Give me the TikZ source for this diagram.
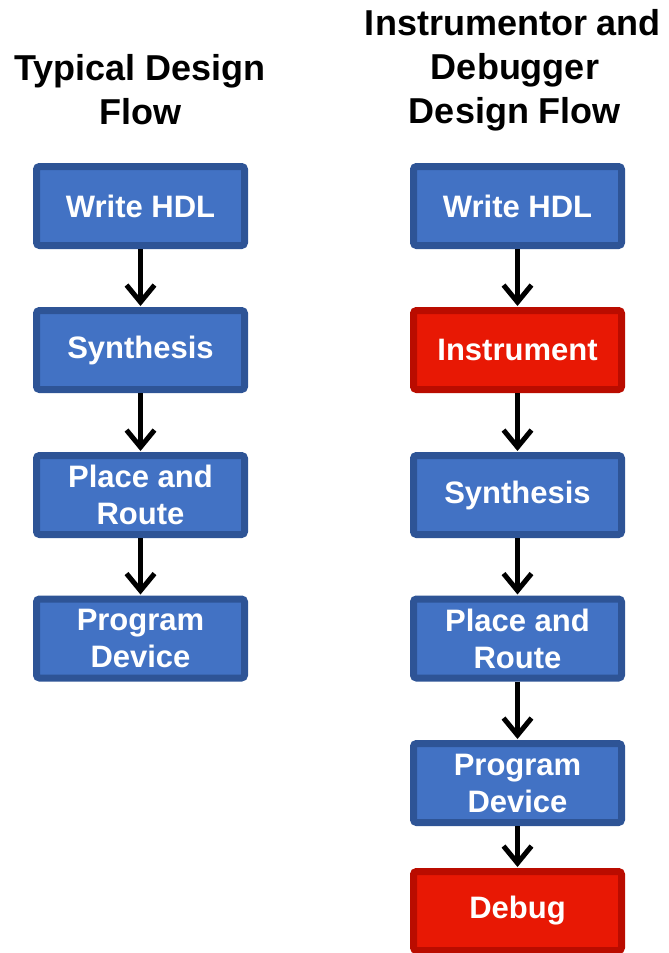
\documentclass[tikz,border=0pt]{standalone}
\usepackage{fontspec}
\setmainfont{Liberation Sans}
\usetikzlibrary{arrows.meta}
\definecolor{bfill}{RGB}{66,114,196}
\definecolor{bedge}{RGB}{46,84,150}
\definecolor{rfill}{RGB}{232,24,4}
\definecolor{redge}{RGB}{186,12,0}
\tikzset{
  flowbox/.style={rectangle, rounded corners=3pt, line width=7pt,
    minimum width=208pt, minimum height=79pt, inner sep=0pt,
    align=center, text=white, font=\fontsize{31}{37}\selectfont\bfseries},
  bluebox/.style={flowbox, draw=bedge, fill=bfill},
  redbox/.style={flowbox, draw=redge, fill=rfill},
  titletext/.style={anchor=base, inner sep=0pt, font=\fontsize{36}{44}\selectfont\bfseries},
  flowarrow/.style={line width=5pt, -{Straight Barb[length=17pt,width=28pt,line width=5pt]}, shorten >=1pt}
}
\begin{document}
\begin{tikzpicture}[x=1pt,y=1pt]
\useasboundingbox (0,0) rectangle (669,-953);
% titles
\node[titletext] (tl1) at (140,-80) {Typical Design};
\node[titletext] (tl2) at (140,-124) {Flow};
\node[titletext] (tr1) at (513,-35) {Instrumentor and};
\node[titletext] (tr2) at (515,-79) {Debugger};
\node[titletext] (tr3) at (515,-123) {Design Flow};
% left flow
\node[bluebox] (lw) at (140.5,-206) {Write HDL};
\node[bluebox] (ls) at (140.5,-350) {Synthesis};
\node[bluebox] (lp) at (140.5,-495) {Place and\\Route};
\node[bluebox] (ld) at (140.5,-638.5) {Program\\Device};
\draw[flowarrow] (lw.south) -- (ls.north);
\draw[flowarrow] (ls.south) -- (lp.north);
\draw[flowarrow] (lp.south) -- (ld.north);
% right flow
\node[bluebox] (rw) at (517.5,-206) {Write HDL};
\node[redbox] (ri) at (517.5,-350) {Instrument};
\node[bluebox] (rs) at (517.5,-495) {Synthesis};
\node[bluebox] (rp) at (517.5,-638.5) {Place and\\Route};
\node[bluebox] (rd) at (517.5,-783) {Program\\Device};
\node[redbox] (rg) at (517.5,-911) {Debug};
\draw[flowarrow] (rw.south) -- (ri.north);
\draw[flowarrow] (ri.south) -- (rs.north);
\draw[flowarrow] (rs.south) -- (rp.north);
\draw[flowarrow] (rp.south) -- (rd.north);
\draw[flowarrow] (rd.south) -- (rg.north);
\end{tikzpicture}
\end{document}
